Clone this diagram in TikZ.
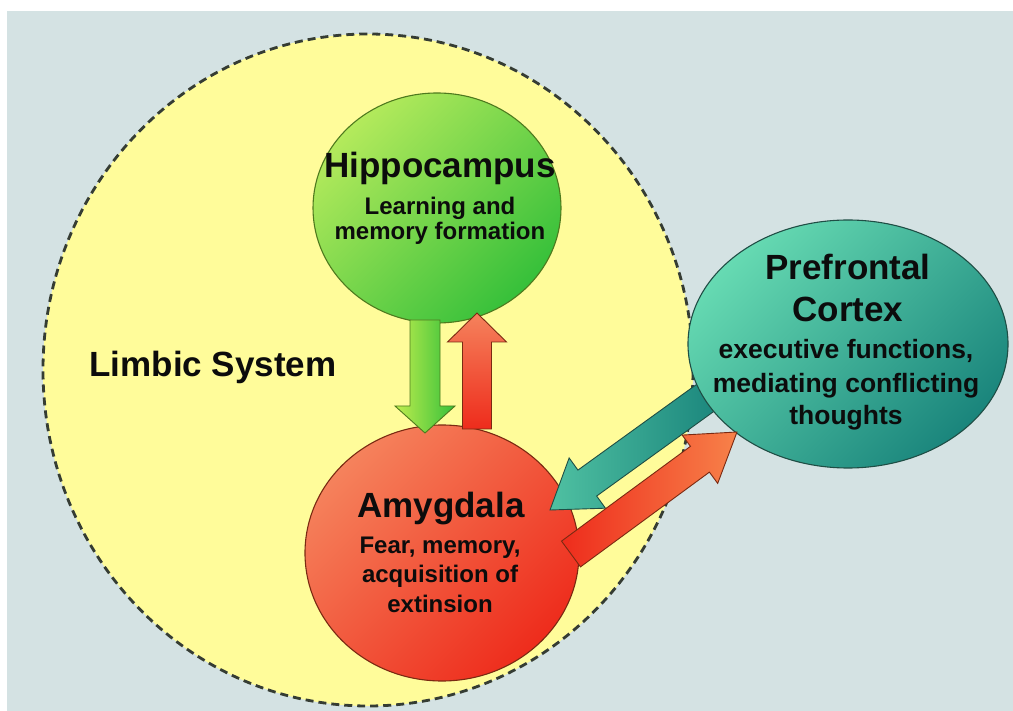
\documentclass[tikz,border=0pt]{standalone}
\usepackage{fontspec}
\setmainfont{Liberation Sans}
\usetikzlibrary{shapes.geometric,calc}
\definecolor{bgc}{HTML}{D4E2E3}
\definecolor{limfill}{HTML}{FFFC9A}
\definecolor{limline}{HTML}{353C33}
\definecolor{hipL}{HTML}{B4EA5C}
\definecolor{hipD}{HTML}{36C03A}
\definecolor{hipO}{HTML}{4E7A1E}
\definecolor{amyL}{HTML}{F5825C}
\definecolor{amyD}{HTML}{EE2C1C}
\definecolor{amyO}{HTML}{7A2A12}
\definecolor{pfcL}{HTML}{66DAB2}
\definecolor{pfcD}{HTML}{1A857C}
\definecolor{pfcO}{HTML}{1F4E45}
\definecolor{txt}{HTML}{0C0C0C}
\newcommand\blockarrow[7]{% #1 style, #2 name, #3 from, #4 to, #5 half shaft, #6 half head, #7 head length
  \coordinate (#2-h) at ($(#4)!#7!(#3)$);
  \path[#1] ($(#3)!#5!90:(#4)$) -- ($(#2-h)!#5!90:(#4)$) -- ($(#2-h)!#6!90:(#4)$) -- (#4)
    -- ($(#2-h)!#6!-90:(#4)$) -- ($(#2-h)!#5!-90:(#4)$) -- ($(#3)!#5!-90:(#4)$) -- cycle;
}
\tikzset{
  region/.style={ellipse, inner sep=0pt, outer sep=0pt, line width=1.1pt},
  ttl/.style={font=\fontsize{35}{40}\selectfont\bfseries, text=txt, inner sep=0pt, anchor=base},
  subh/.style={font=\fontsize{24}{26}\selectfont\bfseries, text=txt, inner sep=0pt, anchor=base},
  subp/.style={font=\fontsize{26.5}{30}\selectfont\bfseries, text=txt, inner sep=0pt, anchor=base},
  garrow/.style={draw=hipO, line width=0.9pt, left color=hipL!85!yellow, right color=hipD},
  rarrow/.style={draw=amyO, line width=0.9pt, top color=amyL, bottom color=amyD},
  tarrow/.style={draw=pfcO, line width=0.9pt, left color=pfcL!70!pfcD, right color=pfcD},
  oarrow/.style={draw=amyO, line width=0.9pt, left color=amyD, right color=amyL!80!orange},
}
\begin{document}
\begin{tikzpicture}[x=1pt, y=-1pt]
\useasboundingbox (0,0) rectangle (1013,711);
\fill[white] (-5,-5) rectangle (1020,720);
\fill[bgc] (7,11) rectangle (1020,720);
% limbic system
\node[region, minimum width=650pt, minimum height=672pt, fill=limfill, draw=limline,
      line width=2.8pt, dash pattern=on 8pt off 5pt] (lim) at (368,370) {};
\node[ttl] (limT) at (213,377) {Limbic System};
% hippocampus and amygdala
\node[region, minimum width=248pt, minimum height=230pt, draw=hipO,
      top color=hipL, bottom color=hipD, shading angle=45] (hip) at (437,208) {};
\node[region, minimum width=274pt, minimum height=256pt, draw=amyO,
      top color=amyL, bottom color=amyD, shading angle=45] (amy) at (442,553) {};
% vertical arrows
\coordinate (g1) at (425,320);
\coordinate (g2) at (425,433);
\coordinate (r1) at (477,429);
\coordinate (r2) at (477,313);
\blockarrow{garrow}{ga}{g1}{g2}{15pt}{30pt}{27pt}
\blockarrow{rarrow}{ra}{r1}{r2}{14.5pt}{29.5pt}{29pt}
% teal arrow from prefrontal to amygdala
\coordinate (t1) at (712,393);
\coordinate (t2) at (550,510);
\blockarrow{tarrow}{ta}{t1}{t2}{16pt}{31pt}{46pt}
% prefrontal
\node[region, minimum width=320pt, minimum height=248pt, draw=pfcO,
      top color=pfcL, bottom color=pfcD, shading angle=45] (pfc) at (848,344) {};
% orange arrow from amygdala to prefrontal
\coordinate (o1) at (571,554);
\coordinate (o2) at (737,432);
\blockarrow{oarrow}{oa}{o1}{o2}{16pt}{30pt}{46pt}
% texts
\node[ttl] (hipT) at (440,178) {Hippocampus};
\node[subh] (hipS1) at (440,215) {Learning and};
\node[subh] (hipS2) at (440,240) {memory formation};
\node[ttl] (amyT) at (441,518) {Amygdala};
\node[subh] (amyS1) at (440,553) {Fear, memory,};
\node[subh] (amyS2) at (440,582) {acquisition of};
\node[subh] (amyS3) at (440,612) {extinsion};
\node[ttl] (pfcT1) at (848,280) {Prefrontal};
\node[ttl] (pfcT2) at (848,322) {Cortex};
\node[subp] (pfcS1) at (846,359) {executive functions,};
\node[subp] (pfcS2) at (846,393) {mediating conflicting};
\node[subp] (pfcS3) at (846,425) {thoughts};
\end{tikzpicture}
\end{document}
